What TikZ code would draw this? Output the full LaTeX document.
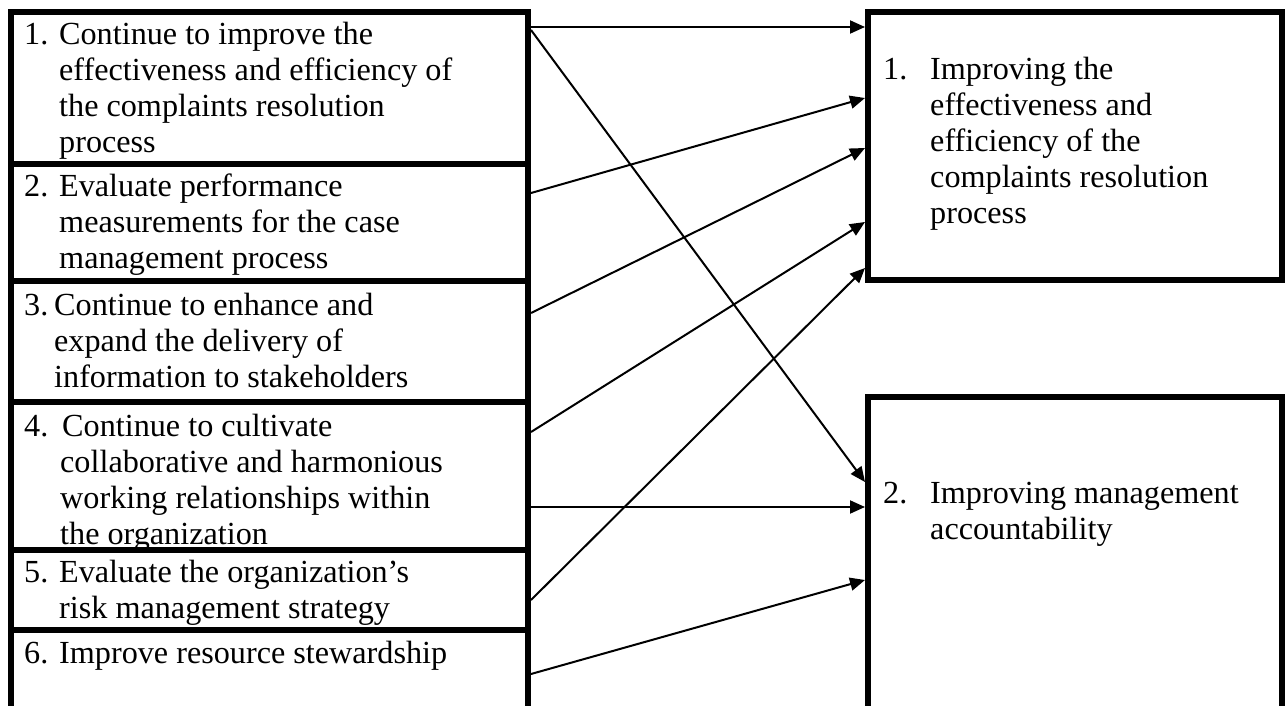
\documentclass[tikz,border=0pt]{standalone}
\usepackage{fontspec}
\setmainfont{Liberation Serif}
\usetikzlibrary{arrows.meta}
\newcommand{\lbl}[2]{\makebox[#1][l]{#2}}
\tikzset{
  box/.style={draw, rectangle, line width=6pt, inner sep=0pt, anchor=north west},
  txt/.style={anchor=base west, inner sep=0pt, font=\fontsize{32.2}{36}\selectfont},
  conn/.style={line width=2pt, -{Triangle[length=15pt,width=13pt]}}
}
\begin{document}
\begin{tikzpicture}[x=1pt,y=-1pt]
\useasboundingbox (0,0) rectangle (1285,706);
\clip (0,0) rectangle (1285,706);
% left boxes
\node[box, minimum width=517.5pt, minimum height=152pt] (L1) at (7.5,9) {};
\node[box, minimum width=517.5pt, minimum height=117pt] (L2) at (7.5,161) {};
\node[box, minimum width=517.5pt, minimum height=121pt] (L3) at (7.5,278) {};
\node[box, minimum width=517.5pt, minimum height=148pt] (L4) at (7.5,399) {};
\node[box, minimum width=517.5pt, minimum height=80pt] (L5) at (7.5,547) {};
\node[box, minimum width=517.5pt, minimum height=90pt] (L6) at (7.5,627) {};
% right boxes
\node[box, minimum width=414pt, minimum height=268pt] (R1) at (865,9) {};
\node[box, minimum width=414pt, minimum height=323pt] (R2) at (865,394) {};
% texts
\node[txt] (T1) at (24,45) {\begin{tabular}[t]{@{}l@{}}\lbl{35pt}{1.}Continue to improve the\\ \hspace*{35pt}effectiveness and efficiency of\\ \hspace*{35pt}the complaints resolution\\ \hspace*{35pt}process\end{tabular}};
\node[txt] (T2) at (24,196) {\begin{tabular}[t]{@{}l@{}}\lbl{35pt}{2.}Evaluate performance\\ \hspace*{35pt}measurements for the case\\ \hspace*{35pt}management process\end{tabular}};
\node[txt] (T3) at (24,315) {\begin{tabular}[t]{@{}l@{}}\lbl{30pt}{3.}Continue to enhance and\\ \hspace*{30pt}expand the delivery of\\ \hspace*{30pt}information to stakeholders\end{tabular}};
\node[txt] (T4) at (24,436) {\begin{tabular}[t]{@{}l@{}}\lbl{38pt}{4.}Continue to cultivate\\ \hspace*{36pt}collaborative and harmonious\\ \hspace*{36pt}working relationships within\\ \hspace*{36pt}the organization\end{tabular}};
\node[txt] (T5) at (24,582) {\begin{tabular}[t]{@{}l@{}}\lbl{35pt}{5.}Evaluate the organization’s\\ \hspace*{35pt}risk management strategy\end{tabular}};
\node[txt] (T6) at (24,663) {\begin{tabular}[t]{@{}l@{}}\lbl{35pt}{6.}Improve resource stewardship\end{tabular}};
\node[txt] (U1) at (883,80) {\begin{tabular}[t]{@{}l@{}}\lbl{47pt}{1.}Improving the\\ \hspace*{47pt}effectiveness and\\ \hspace*{47pt}efficiency of the\\ \hspace*{47pt}complaints resolution\\ \hspace*{47pt}process\end{tabular}};
\node[txt] (U2) at (883,503) {\begin{tabular}[t]{@{}l@{}}\lbl{47pt}{2.}Improving management\\ \hspace*{47pt}accountability\end{tabular}};
% connectors
\draw[conn] ([yshift=-18pt]L1.north east) -- ([yshift=-18pt]R1.north west);
\draw[conn] ([yshift=-21pt]L1.north east) -- ([yshift=-88pt]R2.north west);
\draw[conn] ([yshift=-32pt]L2.north east) -- ([yshift=-89pt]R1.north west);
\draw[conn] ([yshift=-35pt]L3.north east) -- ([yshift=-139pt]R1.north west);
\draw[conn] ([yshift=-33pt]L4.north east) -- ([yshift=-213pt]R1.north west);
\draw[conn] ([yshift=-53pt]L5.north east) -- ([yshift=-259pt]R1.north west);
\draw[conn] ([yshift=-108pt]L4.north east) -- ([yshift=-113pt]R2.north west);
\draw[conn] ([yshift=-47pt]L6.north east) -- ([yshift=-186pt]R2.north west);
\end{tikzpicture}
\end{document}
